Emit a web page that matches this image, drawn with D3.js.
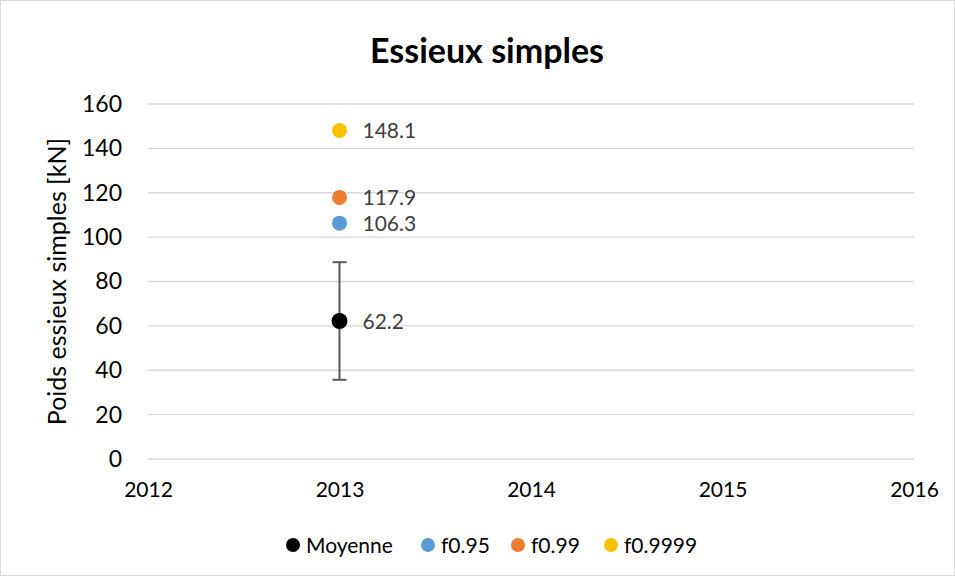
<!DOCTYPE html>
<html>
<head>
<meta charset="utf-8">
<script src="https://cdn.jsdelivr.net/npm/d3@7/dist/d3.min.js"></script>
<style>
  html, body { margin: 0; padding: 0; background: #fff; }
  svg { display: block; font-family: Lato, "Open Sans", sans-serif; }
</style>
</head>
<body>
<svg id="chart" width="955" height="576"></svg>
<script>
// Series: one point per quantile, all for 2013
const seriesNames = ["Moyenne", "f0.95", "f0.99", "f0.9999"];
const seriesColors = ["#000000", "#5b9bd5", "#ed7d31", "#ffc000"];
const seriesYears = [2013, 2013, 2013, 2013];
const seriesValues = [62.2, 106.3, 117.9, 148.1];
// Error bar on the mean (lower, upper)
const meanErrorLow = 35.7;
const meanErrorHigh = 88.7;

const xTicks = [2012, 2013, 2014, 2015, 2016];
const yTicks = [0, 20, 40, 60, 80, 100, 120, 140, 160];

const svg = d3.select("#chart");
const W = 955, H = 576;

svg.append("rect")
  .attr("x", 0.5).attr("y", 0.5).attr("width", W - 1).attr("height", H - 1)
  .attr("fill", "#fff").attr("stroke", "#d9d9d9");

const x = d3.scaleLinear().domain([2012, 2016]).range([148, 914]);
const y = d3.scaleLinear().domain([0, 160]).range([459, 104]);

// Title
svg.append("text")
  .attr("x", 487).attr("y", 63)
  .attr("text-anchor", "middle")
  .attr("font-size", 34).attr("font-weight", "bold").attr("fill", "#000")
  .text("Essieux simples");

// Gridlines
svg.append("g").selectAll("line").data(yTicks).join("line")
  .attr("x1", x(2012)).attr("x2", x(2016))
  .attr("y1", d => y(d)).attr("y2", d => y(d))
  .attr("stroke", "#d9d9d9").attr("stroke-width", 1.3);

// Y axis labels
const yAxis = svg.append("g").attr("transform", `translate(${x(2012)},0)`)
  .call(d3.axisLeft(y).tickValues(yTicks).tickSize(0).tickPadding(26));
yAxis.select(".domain").remove();
yAxis.selectAll("text").attr("font-size", 23).attr("fill", "#000")
  .attr("font-family", "Lato, 'Open Sans', sans-serif");

// X axis labels
const xAxis = svg.append("g").attr("transform", `translate(0,${y(0)})`)
  .call(d3.axisBottom(x).tickValues(xTicks).tickFormat(d3.format("d")).tickSize(0).tickPadding(23));
xAxis.select(".domain").remove();
xAxis.selectAll("text").attr("font-size", 21).attr("fill", "#000")
  .attr("font-family", "Lato, 'Open Sans', sans-serif");

// Y axis title
svg.append("text")
  .attr("transform", `translate(66,${(y(0) + y(160)) / 2})rotate(-90)`)
  .attr("text-anchor", "middle")
  .attr("font-size", 25).attr("fill", "#000")
  .text("Poids essieux simples [kN]");

// Error bar for the mean
const eb = svg.append("g").attr("stroke", "#595959").attr("stroke-width", 2);
const ex = x(seriesYears[0]);
eb.append("line").attr("x1", ex).attr("x2", ex).attr("y1", y(meanErrorLow)).attr("y2", y(meanErrorHigh));
eb.append("line").attr("x1", ex - 7).attr("x2", ex + 7).attr("y1", y(meanErrorLow)).attr("y2", y(meanErrorLow));
eb.append("line").attr("x1", ex - 7).attr("x2", ex + 7).attr("y1", y(meanErrorHigh)).attr("y2", y(meanErrorHigh));

// Points and value labels
const pts = seriesNames.map((n, i) => ({ name: n, color: seriesColors[i], year: seriesYears[i], value: seriesValues[i] }));
svg.append("g").selectAll("circle").data(pts).join("circle")
  .attr("cx", d => x(d.year)).attr("cy", d => y(d.value))
  .attr("r", d => d.name === "Moyenne" ? 8 : 7.5)
  .attr("fill", d => d.color);
svg.append("g").selectAll("text").data(pts).join("text")
  .attr("x", d => x(d.year) + 23).attr("y", d => y(d.value) + 8)
  .attr("font-size", 21).attr("fill", "#404040")
  .text(d => d.value.toFixed(1));

// Legend
const legend = svg.append("g");
const legendX = [293, 428, 518, 611];
pts.forEach((d, i) => {
  const g = legend.append("g").attr("transform", `translate(${legendX[i]},545)`);
  g.append("circle").attr("cx", 0).attr("cy", 0).attr("r", 7).attr("fill", d.color);
  g.append("text").attr("x", 13).attr("y", 8).attr("font-size", 21).attr("fill", "#000").text(d.name);
});
</script>
</body>
</html>
